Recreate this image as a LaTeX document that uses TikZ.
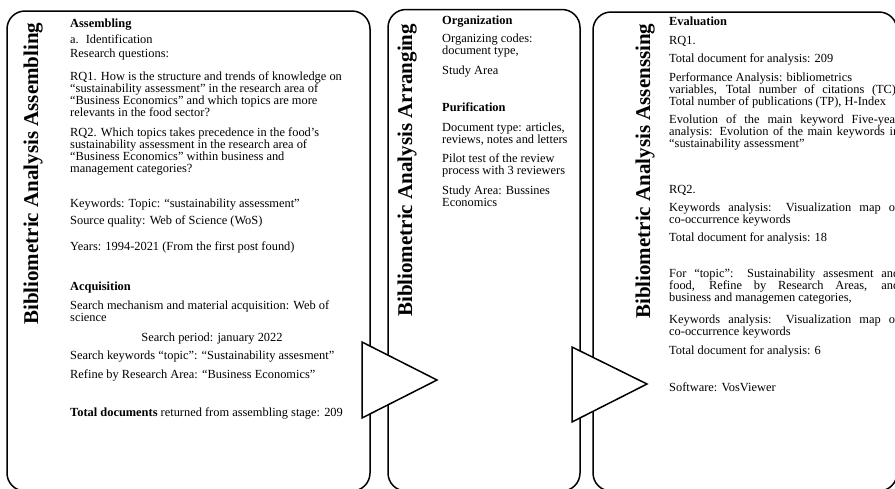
\documentclass[tikz,border=0pt]{standalone}
\usepackage{fontspec}
\setmainfont{Liberation Serif}
\usepackage{tikz}

\def\lsk{12}

\tikzset{
  stage/.style={draw, line width=1.5pt, rounded corners=18pt},
  stagetitle/.style={rotate=90, anchor=base west, inner sep=0pt, font=\fontsize{21}{21}\selectfont\bfseries},
  txt/.style={anchor=base west, align=left, inner sep=0pt, font=\fontsize{12.4}{\lsk}\selectfont},
  pointer/.style={draw, line width=1.5pt, fill=white, line join=miter}
}

\newcommand{\jline}[1]{\makebox[230pt][s]{#1}}

\begin{document}
\begin{tikzpicture}[x=1pt, y=-1pt]

\useasboundingbox (0,0) rectangle (895,488);
\clip (0,0) rectangle (895,488);

\coordinate (s1a) at (7,11);
\coordinate (s1b) at (370,491);
\coordinate (s2a) at (388,9.5);
\coordinate (s2b) at (580,491);
\coordinate (s3a) at (593,12);
\coordinate (s3b) at (897,491);

\foreach \i in {1,2,3}
    \draw [stage] (s\i a) rectangle (s\i b);

\node (t1) [stagetitle] at (38,325) {Bibliometric Analysis Assembling};
\node (t2) [stagetitle] at (412,317) {Bibliometric Analysis Arranging};
\node (t3) [stagetitle] at (650,319) {Bibliometric Analysis Assenssing};

% assembling (multi-line nodes sit on their last baseline)
\node (a0) [txt] at (70,27) {\bfseries Assembling};
\node (a1) [txt] at (70,43) {a.\hspace{7pt}Identification};
\node (a2) [txt] at (70,57) {Research questions:};
\node (a3) [txt] at (70,{80+3*\lsk}) {RQ1. How is the structure and trends of knowledge on\\
    “sustainability assessment” in the research area of\\
    “Business Economics” and which topics are more\\
    relevants in the food sector?};
\node (a4) [txt] at (70,{136+3*\lsk}) {RQ2. Which topics takes precedence in the food’s\\
    sustainability assessment in the research area of\\
    “Business Economics” within business and\\
    management categories?};
\node (a5) [txt] at (70,207) {Keywords: Topic: “sustainability assessment”};
\node (a6) [txt] at (70,224) {Source quality: Web of Science (WoS)};
\node (a7) [txt] at (70,250) {Years: 1994-2021 (From the first post found)};
\node (a8) [txt] at (70,290) {\bfseries Acquisition};
\node (a9) [txt] at (70,{309+\lsk}) {Search mechanism and material acquisition: Web of\\
    science};
\node (a10) [txt, anchor=base] at (212,341) {Search period: january 2022};
\node (a11) [txt] at (70,359) {Search keywords “topic”: “Sustainability assesment”};
\node (a12) [txt] at (70,378) {Refine by Research Area: “Business Economics”};
\node (a13) [txt] at (70,416) {\textbf{Total documents} returned from assembling stage: 209};

% arranging
\node (b0) [txt] at (442,24) {\bfseries Organization};
\node (b1) [txt] at (442,{42+\lsk}) {Organizing codes:\\ document type,};
\node (b2) [txt] at (442,74) {Study Area};
\node (b3) [txt] at (442,111) {\bfseries Purification};
\node (b4) [txt] at (442,{131+\lsk}) {Document type: articles,\\ reviews, notes and letters};
\node (b5) [txt] at (442,{162+\lsk}) {Pilot test of the review\\ process with 3 reviewers};
\node (b6) [txt] at (442,{194+\lsk}) {Study Area: Bussines\\ Economics};

% assessing
\node (c0) [txt] at (669,25) {\bfseries Evaluation};
\node (c1) [txt] at (669,44) {RQ1.};
\node (c2) [txt] at (669,62) {Total document for analysis: 209};
\node (c3) [txt] at (669,{81+2*\lsk}) {Performance Analysis: bibliometrics\\
    \jline{variables, Total number of citations (TC),}\\
    Total number of publications (TP), H-Index};
\node (c4) [txt] at (669,{123+2*\lsk}) {\jline{Evolution of the main keyword Five-year}\\
    \jline{analysis: Evolution of the main keywords in}\\
    “sustainability assessment”};
\node (c5) [txt] at (669,193) {RQ2.};
\node (c6) [txt] at (669,{211+\lsk}) {\jline{Keywords analysis: Visualization map of}\\
    co-occurrence keywords};
\node (c7) [txt] at (669,241) {Total document for analysis: 18};
\node (c8) [txt] at (669,{277+2*\lsk}) {\jline{For “topic”: Sustainability assesment and}\\
    \jline{food, Refine by Research Areas, and}\\
    business and managemen categories,};
\node (c9) [txt] at (669,{323+\lsk}) {\jline{Keywords analysis: Visualization map of}\\
    co-occurrence keywords};
\node (c10) [txt] at (669,354) {Total document for analysis: 6};
\node (c11) [txt] at (669,391) {Software: VosViewer};

% pointers between stages
\coordinate (p1) at (362,342);
\coordinate (p2) at (362,418);
\coordinate (p3) at (437,380);
\coordinate (q1) at (572,347);
\coordinate (q2) at (572,422);
\coordinate (q3) at (647,384);

\draw [pointer] (p1) -- (p3) -- (p2) -- cycle;
\draw [pointer] (q1) -- (q3) -- (q2) -- cycle;

\end{tikzpicture}
\end{document}
